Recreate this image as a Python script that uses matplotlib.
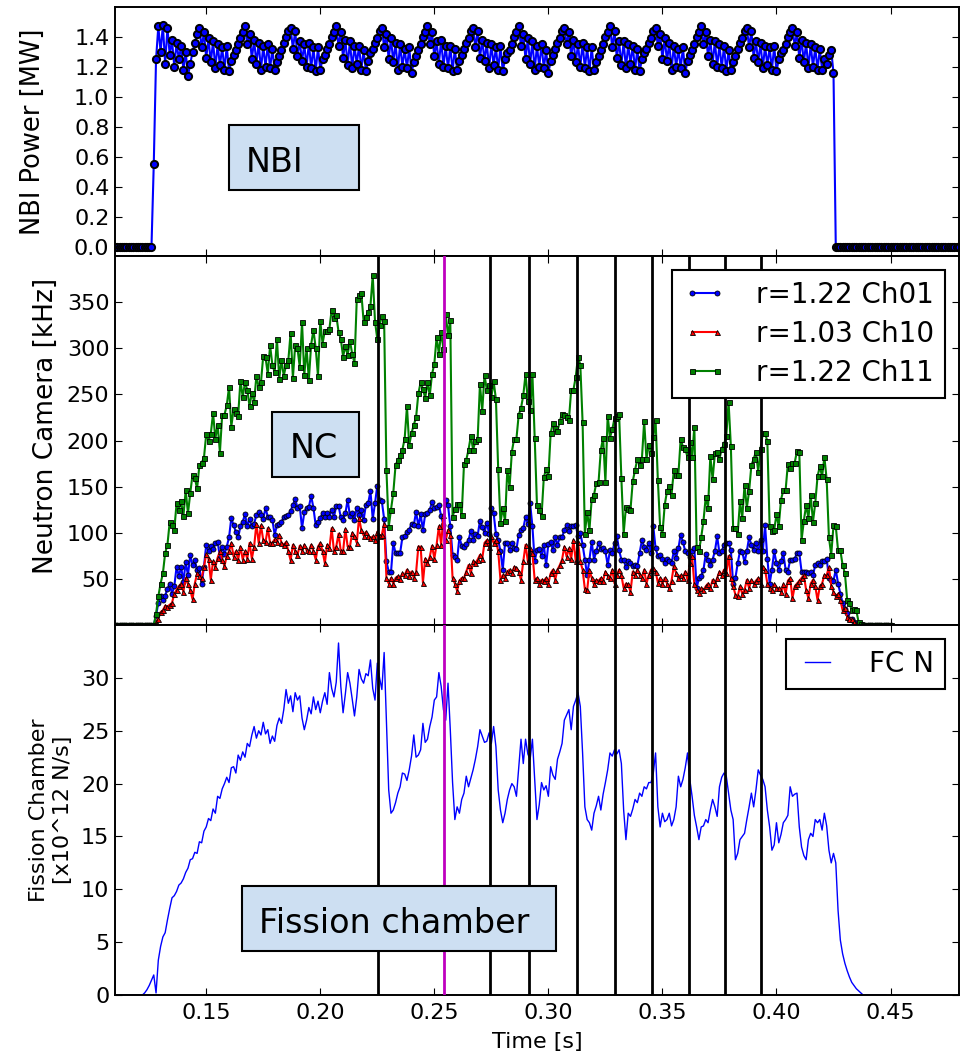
import numpy as np
import matplotlib
matplotlib.use("Agg")
import matplotlib.pyplot as plt
from matplotlib.patches import Rectangle

plt.rcParams.update({
    "font.family": "DejaVu Sans",
    "font.size": 16,
    "axes.linewidth": 1.4,
    "xtick.direction": "in",
    "ytick.direction": "in",
    "xtick.top": True,
    "ytick.right": True,
    "xtick.major.size": 5,
    "ytick.major.size": 5,
    "xtick.major.pad": 6,
    "ytick.major.pad": 4,
    "xtick.labelsize": 16,
    "ytick.labelsize": 16,
    "legend.numpoints": 2,
})

T0 = 0.110   # first sample [s]
DT = 0.001   # sample spacing [s]

# ---- NBI power [MW] ----
nbi_on = [
    0.55, 1.25, 1.47, 1.30, 1.48, 1.22, 1.46, 1.28, 1.38, 1.20, 1.36, 1.25, 1.34, 1.18, 1.30, 1.14, 1.22, 1.30, 1.36, 1.42,
    1.46, 1.33, 1.43, 1.26, 1.39, 1.23, 1.37, 1.19, 1.35, 1.21, 1.33, 1.18, 1.34, 1.17, 1.24, 1.28, 1.31, 1.35, 1.39, 1.43,
    1.47, 1.35, 1.42, 1.25, 1.38, 1.22, 1.36, 1.18, 1.34, 1.20, 1.35, 1.19, 1.32, 1.18, 1.23, 1.27, 1.31, 1.36, 1.40, 1.44,
    1.46, 1.32, 1.44, 1.27, 1.37, 1.24, 1.35, 1.20, 1.36, 1.19, 1.33, 1.17, 1.33, 1.18, 1.25, 1.28, 1.32, 1.35, 1.40, 1.43,
    1.47, 1.34, 1.43, 1.26, 1.38, 1.21, 1.37, 1.19, 1.34, 1.22, 1.34, 1.18, 1.31, 1.17, 1.24, 1.29, 1.32, 1.36, 1.39, 1.44,
    1.46, 1.33, 1.42, 1.25, 1.39, 1.23, 1.36, 1.18, 1.35, 1.20, 1.32, 1.19, 1.33, 1.16, 1.23, 1.27, 1.31, 1.35, 1.40, 1.43,
    1.47, 1.35, 1.43, 1.27, 1.37, 1.22, 1.38, 1.20, 1.34, 1.19, 1.34, 1.17, 1.32, 1.18, 1.24, 1.28, 1.32, 1.36, 1.39, 1.44,
    1.46, 1.33, 1.44, 1.26, 1.38, 1.24, 1.36, 1.19, 1.35, 1.21, 1.33, 1.18, 1.34, 1.17, 1.25, 1.29, 1.31, 1.35, 1.40, 1.43,
    1.47, 1.34, 1.42, 1.25, 1.39, 1.22, 1.37, 1.18, 1.34, 1.20, 1.35, 1.19, 1.31, 1.16, 1.24, 1.28, 1.32, 1.36, 1.39, 1.44,
    1.46, 1.35, 1.43, 1.27, 1.38, 1.23, 1.35, 1.20, 1.36, 1.19, 1.33, 1.17, 1.33, 1.18, 1.23, 1.27, 1.31, 1.35, 1.40, 1.43,
    1.47, 1.33, 1.44, 1.26, 1.37, 1.21, 1.37, 1.19, 1.35, 1.22, 1.34, 1.18, 1.32, 1.17, 1.25, 1.29, 1.32, 1.36, 1.39, 1.44,
    1.46, 1.34, 1.42, 1.25, 1.39, 1.24, 1.36, 1.18, 1.34, 1.20, 1.32, 1.19, 1.33, 1.16, 1.24, 1.28, 1.31, 1.35, 1.40, 1.43,
    1.47, 1.35, 1.43, 1.27, 1.38, 1.22, 1.37, 1.20, 1.35, 1.19, 1.34, 1.17, 1.31, 1.18, 1.23, 1.27, 1.32, 1.36, 1.39, 1.44,
    1.46, 1.33, 1.44, 1.26, 1.37, 1.23, 1.36, 1.19, 1.34, 1.21, 1.33, 1.18, 1.34, 1.17, 1.25, 1.29, 1.31, 1.35, 1.40, 1.43,
    1.46, 1.34, 1.43, 1.26, 1.38, 1.23, 1.36, 1.19, 1.35, 1.20, 1.33, 1.18, 1.32, 1.18, 1.25, 1.22, 1.28, 1.31, 1.16,
]
nbi_power = [0.0] * 17 + nbi_on + [0.0] * 55

# ---- Neutron camera [kHz], samples 0.128 .. 0.437 s ----
ch01_on = [
    10, 24, 31, 27, 32, 39, 45, 34, 42, 63,
    53, 63, 47, 68, 54, 76, 65, 70, 60, 62,
    45, 63, 87, 80, 86, 82, 89, 90, 74, 85,
    77, 85, 95, 116, 108, 101, 95, 107, 112, 120,
    107, 115, 107, 110, 119, 122, 119, 115, 127, 117,
    117, 114, 98, 108, 110, 112, 117, 118, 119, 124,
    130, 137, 127, 129, 105, 122, 127, 128, 140, 127,
    108, 112, 116, 121, 117, 121, 117, 125, 117, 129,
    129, 117, 114, 121, 136, 118, 121, 114, 127, 119,
    125, 114, 130, 132, 145, 115, 132, 151, 136, 134,
    115, 69, 58, 57, 89, 78, 78, 78, 95, 96,
    101, 103, 110, 108, 123, 107, 120, 103, 120, 121,
    125, 133, 127, 128, 130, 118, 108, 136, 130, 107,
    76, 74, 71, 95, 86, 85, 88, 92, 102, 92,
    99, 97, 113, 106, 100, 111, 99, 127, 121, 99,
    92, 80, 60, 89, 89, 81, 89, 84, 82, 98,
    103, 105, 117, 110, 132, 107, 69, 81, 82, 75,
    87, 65, 88,
    90, 81, 95, 87, 95, 95, 103, 108, 102, 107,
    107, 108, 96, 100, 87, 71, 54, 71, 90, 71,
    80, 89, 82, 84, 80, 65, 81, 78, 89, 97,
    81, 71, 70, 63, 69, 67, 64, 65, 64, 78,
    92, 85, 81, 89, 78, 107, 83, 75, 76, 72,
    67, 72, 69, 67, 80, 73, 83, 98, 90, 80,
    78, 74, 80, 83, 40, 51, 53, 60, 77, 71,
    65, 71, 80, 96, 78, 80, 87, 89, 89, 81,
    45, 51, 67, 80, 79, 68, 80, 95, 87, 81,
    89, 80, 92, 80, 108, 72, 45, 60, 80, 67,
    60, 69, 78, 60, 58, 71, 71, 72, 78, 78,
    58, 58, 58, 56, 58, 54, 65, 67, 65, 69,
    69, 72, 51, 49, 48, 60, 45, 34, 24, 17,
    13, 7, 6, 3, 2, 0, 0,
]
ch10_on = [
    3, 7, 14, 16, 21, 20, 22, 24, 34, 38,
    42, 45, 36, 51, 45, 38, 28, 45, 56, 53,
    51, 63, 77, 72, 49, 69, 63, 73, 80, 71,
    64, 75, 80, 89, 74, 80, 71, 85, 71, 80,
    72, 89, 72, 85, 110, 89, 108, 92, 90, 105,
    89, 89, 93, 90, 98, 89, 87, 90, 80, 70,
    87, 80, 76, 86, 80, 87, 81, 80, 87, 80,
    71, 85, 89, 80, 67, 87, 83, 105, 80, 85,
    99, 80, 80, 104, 85, 85, 100, 96, 89, 116,
    103, 97, 101, 96, 94, 96, 92, 101, 96, 98,
    110, 51, 45, 51, 45, 51, 53, 50, 56, 54,
    60, 53, 58, 51, 57, 85, 85, 46, 72, 67,
    74, 86, 72, 87, 107, 87, 119, 92, 103, 98,
    51, 45, 37, 48, 51, 51, 58, 65, 56, 69,
    67, 71, 76, 72, 89, 92, 85, 96, 89, 92,
    80, 49, 54, 51, 58, 60, 56, 63, 62, 58,
    49, 69, 87, 69, 83, 78, 49, 51, 45, 49,
    48, 51, 45,
    56, 60, 49, 60, 65, 71, 85, 74, 83, 72,
    92, 69, 90, 69, 60, 39, 38, 60, 51, 44,
    49, 48, 51, 48, 58, 53, 51, 60, 45, 54,
    60, 54, 40, 45, 44, 36, 58, 54, 60, 54,
    51, 60, 45, 54, 60, 62, 58, 46, 51, 44,
    51, 45, 40, 48, 64, 56, 51, 54, 51, 58,
    49, 67, 75, 44, 38, 35, 40, 38, 42, 45,
    40, 49, 44, 51, 58, 54, 60, 56, 75, 51,
    42, 33, 31, 42, 34, 38, 49, 40, 49, 45,
    48, 51, 45, 63, 60, 45, 40, 38, 44, 40,
    40, 36, 44, 34, 48, 51, 29, 42, 45, 48,
    51, 54, 38, 29, 45, 49, 42, 27, 42, 45,
    54, 54, 63, 42, 36, 31, 34, 27, 16, 18,
    9, 7, 6, 3, 1, 0, 0,
]
ch11_on = [
    12, 31, 45, 56, 78, 87, 112, 108, 103, 132,
    125, 134, 118, 146, 121, 143, 163, 159, 148, 173,
    176, 181, 207, 200, 207, 230, 202, 217, 187, 228,
    228, 238, 258, 215, 234, 230, 227, 265, 247, 263,
    255, 237, 252, 242, 270, 258, 263, 292, 290, 272,
    303, 282, 274, 310, 267, 287, 270, 282, 287, 317,
    268, 303, 300, 280, 328, 271, 300, 266, 304, 320,
    300, 270, 330, 305, 319, 319, 321, 342, 333, 336,
    318, 310, 291, 302, 293, 308, 294, 284, 353, 358,
    360, 329, 334, 339, 346, 379, 329, 310, 325, 335,
    330, 168, 106, 125, 143, 173, 179, 184, 190, 202,
    237, 195, 208, 217, 225, 251, 263, 256, 246, 263,
    249, 272, 283, 312, 294, 318, 299, 337, 314, 331,
    117, 126, 131, 131, 119, 174, 179, 190, 205, 190,
    199, 202, 261, 232, 271, 255, 260, 247, 264, 245,
    169, 111, 127, 113, 168, 150, 188, 202, 202, 228,
    235, 249, 272, 243, 233, 272, 203, 130, 125, 118,
    160, 169, 161,
    208, 219, 214, 210, 221, 229, 228, 226, 222, 255,
    255, 269, 291, 282, 220, 99, 123, 103, 137, 141,
    154, 155, 190, 203, 155, 227, 203, 212, 224, 227,
    229, 159, 99, 128, 126, 125, 156, 168, 180, 173,
    180, 221, 180, 195, 187, 204, 222, 157, 106, 99,
    130, 145, 151, 141, 168, 163, 163, 202, 193, 191,
    182, 198, 182, 215, 85, 80, 95, 113, 139, 127,
    183, 158, 186, 188, 180, 191, 196, 205, 242, 194,
    105, 105, 99, 134, 116, 152, 127, 145, 173, 180,
    188, 166, 191, 208, 208, 199, 107, 102, 103, 120,
    107, 136, 146, 146, 175, 170, 176, 176, 189, 188,
    92, 113, 130, 116, 141, 112, 132, 161, 172, 161,
    182, 158, 95, 76, 108, 107, 81, 81, 65, 56,
    27, 24, 16, 17, 16, 3, 1,
]
ch01 = [0] * 18 + ch01_on + [0] * 13
ch10 = [0] * 18 + ch10_on + [0] * 13
ch11 = [0] * 18 + ch11_on + [0] * 13

# ---- Fission chamber [x10^12 N/s], samples 0.123 .. 0.437 s ----
fc_on = [
    0.2, 0.5, 0.9, 1.4, 1.9, 0.2, 3.3, 4.6, 5.5, 5.9,
    7.1, 8.2, 9.2, 9.4, 9.8, 10.4, 10.6, 11.0, 11.6, 12.0,
    12.8, 12.9, 13.5, 13.4, 14.5, 14.4, 15.5, 15.9, 16.7, 16.5,
    17.6, 17.2, 18.8, 18.6, 19.5, 20.0, 20.6, 20.1, 21.5, 21.6,
    21.0, 22.7, 22.2, 23.0, 22.5, 23.8, 23.5, 24.6, 25.4, 24.3,
    25.0, 24.6, 25.8, 24.7, 25.1, 23.8, 24.5, 24.0, 25.5, 26.2,
    25.7, 27.0, 28.9, 27.6, 28.3, 26.8, 28.6, 27.9, 28.3, 26.2,
    25.1, 26.0, 27.2, 26.6, 28.2, 27.0, 27.8, 26.7, 27.8, 28.6,
    27.5, 30.5, 29.0, 28.2, 29.6, 33.3, 29.2, 26.7, 28.5, 30.5,
    29.5, 28.0, 26.4, 28.2, 30.8, 29.9, 29.5, 30.4, 30.2, 31.7,
    29.0, 27.9, 31.4, 30.0, 28.9, 32.4, 26.0, 19.4, 17.2, 17.5,
    18.2, 19.1, 19.7, 21.0, 20.9, 20.3, 21.3, 22.6, 24.6, 22.5,
    22.7, 23.2, 25.7, 23.9, 24.2, 25.4, 26.3, 27.9, 28.2, 30.5,
    29.2, 27.0, 26.0, 29.5, 25.1, 20.1, 16.6, 17.8, 17.2, 18.5,
    19.1, 20.7, 19.7, 20.5, 21.3, 22.3, 23.5, 25.1, 24.5, 23.9,
    24.0, 24.8, 23.8, 25.4, 23.5, 19.4, 17.5, 16.3, 17.2, 18.5,
    19.4, 20.0, 19.7, 18.8, 21.5, 24.2, 21.9, 24.2, 22.8, 22.3,
    24.2, 20.4, 16.6, 18.0, 20.1, 19.4, 19.8, 18.8, 21.6, 20.8,
    20.4, 22.3, 23.0, 23.8, 26.0, 26.5, 27.0, 25.1, 27.3, 27.9,
    28.6, 27.3, 22.9, 17.8, 16.6, 16.3, 15.6, 17.2, 17.9, 18.8,
    17.5, 19.0, 20.1, 21.3, 22.9, 22.6, 23.2, 22.8, 23.2, 21.9,
    17.5, 14.7, 17.2, 16.9, 17.6, 18.5, 18.2, 19.1, 18.8, 19.7,
    19.5, 20.1, 20.1, 21.0, 22.9, 17.8, 15.9, 17.2, 16.4, 16.6,
    17.2, 16.0, 16.6, 17.8, 20.7, 19.7, 20.4, 21.5, 22.9, 20.4,
    18.8, 17.0, 15.9, 14.7, 15.9, 16.0, 16.6, 16.3, 17.5, 18.5,
    17.8, 16.9, 19.7, 20.6, 21.0, 20.7, 19.1, 17.5, 16.6, 12.8,
    13.4, 14.7, 15.0, 15.3, 16.6, 17.8, 19.1, 17.8, 19.4, 21.3,
    20.8, 20.4, 19.7, 17.5, 15.9, 13.7, 14.2, 16.3, 14.4, 15.2,
    16.3, 16.6, 17.0, 19.7, 18.8, 19.0, 19.1, 15.9, 14.0, 13.2,
    12.8, 14.7, 15.3, 15.0, 16.6, 16.3, 16.6, 15.6, 17.2, 16.0,
    13.7, 12.5, 13.4, 12.5, 8.0, 5.2, 3.9, 3.0, 2.3, 1.7,
    1.2, 0.9, 0.6, 0.4, 0.2,
]
fc = [0.0] * 13 + fc_on + [0.0] * 11

# times of the marked events [s]
event_times = [0.2252, 0.2743, 0.2914, 0.3124, 0.3294, 0.3455, 0.3615, 0.3776, 0.3934]
magenta_time = 0.2544

nbi_ticks = [0.0, 0.2, 0.4, 0.6, 0.8, 1.0, 1.2, 1.4]
nc_ticks = [50, 100, 150, 200, 250, 300, 350]
fc_ticks = [0, 5, 10, 15, 20, 25, 30]
time_ticks = [0.15, 0.20, 0.25, 0.30, 0.35, 0.40, 0.45]


def time_axis(values):
    return np.round(T0 + DT * np.arange(len(values)), 3)


t_nbi = time_axis(nbi_power)
t_nc = time_axis(ch11)
t_fc = time_axis(fc)
assert len(ch01) == len(ch10) == len(ch11)

fig = plt.figure(figsize=(9.63, 10.58), dpi=100)
gs = fig.add_gridspec(3, 1, height_ratios=[249, 369, 370], hspace=0,
                      left=0.1194, right=0.9958, top=0.9934, bottom=0.0595)
ax1 = fig.add_subplot(gs[0])
ax2 = fig.add_subplot(gs[1], sharex=ax1)
ax3 = fig.add_subplot(gs[2], sharex=ax1)

box_color = "#cddff2"

# NBI
ax1.plot(t_nbi, nbi_power, "-o", color="b", mec="k", ms=5.2, mew=1.4, lw=1.5)
ax1.set_ylim(-0.062, 1.6)
ax1.set_yticks(nbi_ticks)
ax1.set_yticklabels(["%.1f" % v for v in nbi_ticks])
ax1.set_ylabel("NBI Power [MW]", fontsize=18.5)
ax1.yaxis.set_label_coords(-0.0817, 0.5)
ax1.add_patch(Rectangle((0.135, 0.265), 0.154, 0.261, transform=ax1.transAxes,
                        fc=box_color, ec="k", lw=1.5, zorder=6))
ax1.text(0.155, 0.339, "NBI", transform=ax1.transAxes, fontsize=24,
         ha="left", va="baseline", zorder=7)

# neutron camera
ax2.plot(t_nc, ch01, "-o", color="b", mec="k", ms=3.6, mew=0.6, lw=1.5, label="r=1.22 Ch01")
ax2.plot(t_nc, ch10, "-^", color="r", mec="k", ms=3.6, mew=0.6, lw=1.5, label="r=1.03 Ch10")
ax2.plot(t_nc, ch11, "-s", color="g", mec="k", ms=3.6, mew=0.6, lw=1.5, label="r=1.22 Ch11")
ax2.set_ylim(0, 400)
ax2.set_yticks(nc_ticks)
ax2.set_ylabel("Neutron Camera [kHz]", fontsize=19)
ax2.yaxis.set_label_coords(-0.0664, 0.54)
ax2.add_patch(Rectangle((0.186, 0.401), 0.103, 0.176, transform=ax2.transAxes,
                        fc=box_color, ec="k", lw=1.5, zorder=6))
ax2.text(0.2073, 0.452, "NC", transform=ax2.transAxes, fontsize=24,
         ha="left", va="baseline", zorder=7)
leg2 = ax2.legend(loc="upper right", fontsize=20, handlelength=1.5, handletextpad=1.1,
                  borderpad=0.4, labelspacing=0.4, fancybox=False, framealpha=1,
                  edgecolor="k")
leg2.get_frame().set_linewidth(1.5)

# fission chamber
ax3.plot(t_fc, fc, "-", color="b", lw=1.0, label="FC N")
ax3.set_ylim(0, 35)
ax3.set_yticks(fc_ticks)
ax3.set_ylabel("Fission Chamber\n[x10^12 N/s]", linespacing=1.25)
ax3.yaxis.set_label_coords(-0.05, 0.5)
ax3.add_patch(Rectangle((0.150, 0.119), 0.3725, 0.176, transform=ax3.transAxes,
                        fc=box_color, ec="k", lw=1.5, zorder=6))
ax3.text(0.1706, 0.1668, "Fission chamber", transform=ax3.transAxes, fontsize=24,
         ha="left", va="baseline", zorder=7)
leg3 = ax3.legend(loc="upper right", fontsize=20, handlelength=1.5, handletextpad=1.1,
                  borderpad=0.4, fancybox=False, framealpha=1, edgecolor="k")
leg3.get_frame().set_linewidth(1.5)

for ax in (ax2, ax3):
    for t in event_times:
        ax.axvline(t, color="k", lw=2.0, zorder=3)
    ax.axvline(magenta_time, color=(0.75, 0, 0.75), lw=2.0, zorder=3)

ax3.set_xlim(0.11, 0.48)
ax3.set_xticks(time_ticks)
ax3.set_xticklabels(["%.2f" % v for v in time_ticks])
ax3.set_xlabel("Time [s]", fontsize=16, labelpad=6)
ax1.tick_params(labelbottom=False)
ax2.tick_params(labelbottom=False)

fig.savefig("out.png", dpi=100, facecolor="white")
